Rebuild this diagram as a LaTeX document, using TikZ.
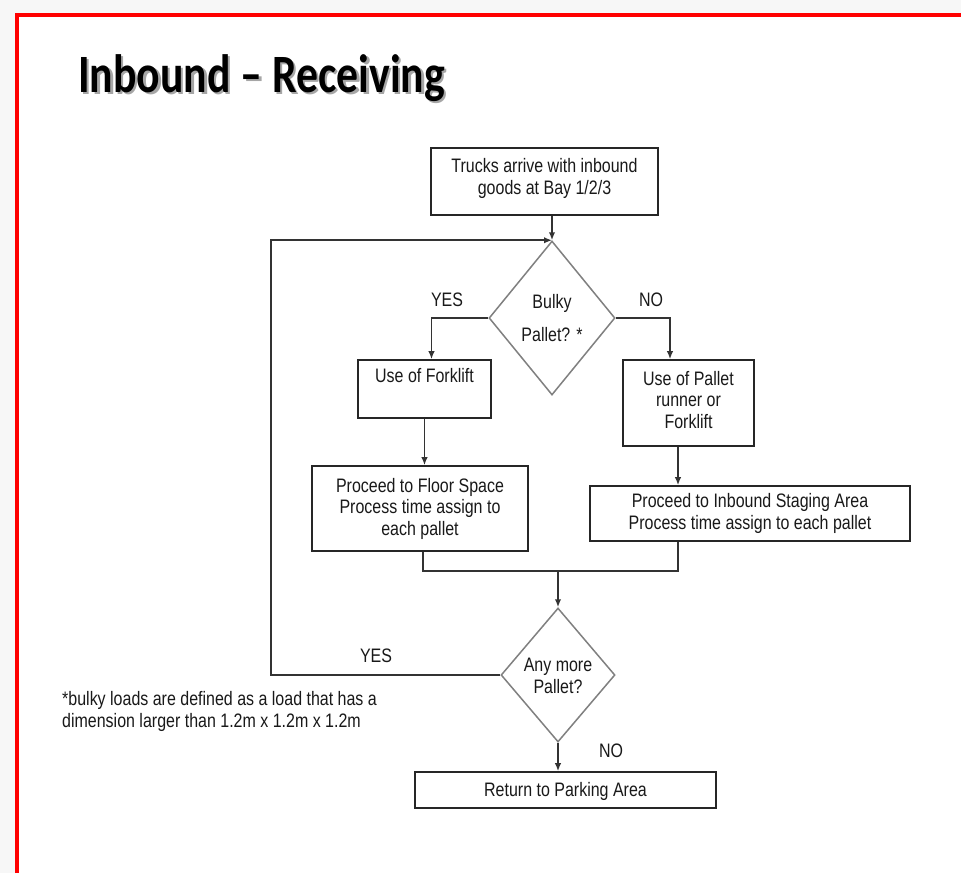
\documentclass[tikz,border=0pt]{standalone}
\usepackage{fontspec}
\setmainfont{Liberation Sans}[FakeStretch=0.82]
\newfontfamily\titlefont{Carlito}
\usetikzlibrary{shapes.geometric,arrows.meta}
\newcommand{\titletext}{\titlefont\bfseries\fontsize{54}{60}\selectfont\scalebox{0.81}[1]{Inbound – Receiving}}
\begin{document}
\begin{tikzpicture}[x=1pt,y=-1pt,
  every node/.style={font=\fontsize{19.5}{21.5}\selectfont, text=black!90},
  procbox/.style={draw=black!85, line width=1.6pt, rectangle, inner sep=2pt, align=center},
  decision/.style={draw=black!50, line width=1.5pt, diamond, inner sep=0pt, align=center},
  conn/.style={draw=black!80, line width=1.6pt},
  arr/.style={conn, -{Latex[length=8pt,width=6.5pt]}},
  lbl/.style={inner sep=0pt}
]
\useasboundingbox (0,0) rectangle (961,873);
\fill[black!3] (0,0) rectangle (961,873);
\fill[white] (17,15) rectangle (961,873);
\draw[red, line width=4pt] (17,873) -- (17,15) -- (961,15);

% title with its shadow
\node[anchor=base west, inner sep=0pt, text=black] (title) at (78,92)
  {\makebox[0pt][l]{\hspace{2.5pt}\raisebox{-2.5pt}{\textcolor{black!35}{\titletext}}}\titletext};

% nodes
\node[procbox, minimum width=227pt, minimum height=67pt] (trucks) at (544.5,181.5)
  {Trucks arrive with inbound\\goods at Bay 1/2/3\vspace{6pt}};
\node[decision, minimum width=126pt, minimum height=154pt] (bulky) at (552,318)
  {Bulky\\[11.5pt]Pallet? *};
\node[procbox, minimum width=133pt, minimum height=58pt] (forklift) at (424.5,389)
  {Use of Forklift\\\strut};
\node[procbox, minimum width=131pt, minimum height=86pt] (pallet) at (688.5,403)
  {Use of Pallet\\runner or\\Forklift\vspace{6pt}};
\node[procbox, minimum width=216pt, minimum height=85pt] (floor) at (420,508.5)
  {Proceed to Floor Space\\Process time assign to\\each pallet};
\node[procbox, minimum width=320pt, minimum height=55pt] (staging) at (750,513.5)
  {Proceed to Inbound Staging Area\\Process time assign to each pallet};
\node[decision, minimum width=114pt, minimum height=134pt] (anymore) at (558,675)
  {\raisebox{-3pt}[\height][\depth]{\begin{tabular}{@{}c@{}}Any more\\Pallet?\end{tabular}}};
\node[procbox, minimum width=301pt, minimum height=36pt] (return) at (565.5,790)
  {\rule{0pt}{17pt}Return to Parking Area};

% labels
\node[lbl] (yes1) at (447,300) {YES};
\node[lbl] (no1) at (651,300) {NO};
\node[lbl] (yes2) at (376,656) {YES};
\node[lbl] (no2) at (611,751) {NO};
\node[lbl, anchor=base west, align=left] (note) at (62,727)
  {*bulky loads are defined as a load that has a\\dimension larger than 1.2m x 1.2m x 1.2m};

% coordinates
\coordinate (loopB) at (271,675);
\coordinate (join) at (558,571);

% connectors
\draw[arr] (trucks.south -| bulky.north) -- (bulky.north);
\draw[arr] (bulky.west) -| ([xshift=7pt]forklift.north);
\draw[arr] (bulky.east) -| ([xshift=-18.5pt]pallet.north);
\draw[arr] (forklift.south) -- (forklift.south |- floor.north);
\draw[arr] ([xshift=-10.5pt]pallet.south) -- ([xshift=-10.5pt]pallet.south |- staging.north);
\draw[conn] ([xshift=3pt]floor.south) |- (join) -| ([xshift=-72pt]staging.south);
\draw[arr] (join) -- (anymore.north);
\draw[arr] (anymore.west) -- (loopB) |- (bulky.north);
\draw[arr] (anymore.south) -- (anymore.south |- return.north);
\end{tikzpicture}
\end{document}
